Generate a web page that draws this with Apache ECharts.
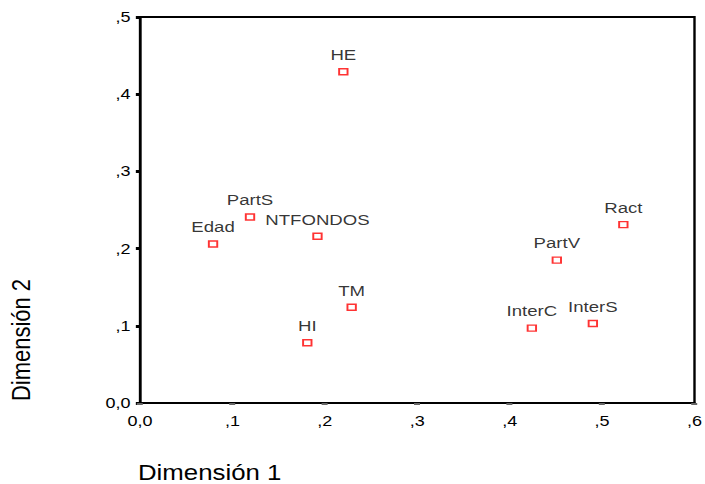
<!DOCTYPE html>
<html>
<head>
<meta charset="utf-8">
<script src="https://cdn.jsdelivr.net/npm/echarts@6/dist/echarts.min.js"></script>
<style>
  html, body { margin: 0; padding: 0; background: #fff; overflow: hidden; }
  /* the original SPSS export is stretched sideways, so the chart is too */
  #chart { width: 588px; height: 484px; transform: scaleX(1.2); transform-origin: 0 0; }
</style>
</head>
<body>
<div id="chart"></div>
<script>
const labels = ["HE", "PartS", "NTFONDOS", "Edad", "Ract", "PartV", "InterC", "InterS", "TM", "HI"];
const dim1 = [0.220, 0.119, 0.192, 0.079, 0.523, 0.451, 0.424, 0.490, 0.229, 0.181];
const dim2 = [0.429, 0.241, 0.216, 0.206, 0.231, 0.185, 0.097, 0.103, 0.124, 0.078];

const font = "'Liberation Sans', Arial, sans-serif";

// SPSS style tick labels: ",1" ... and "0,0" at zero
const tickFmt = (v) => {
  if (Math.abs(v) < 1e-9) return "0,0";
  return "," + Math.round(v * 10);
};

const chart = echarts.init(document.getElementById("chart"), null, { renderer: "svg" });

const option = {
  animation: false,
  backgroundColor: "#fff",
  grid: {
    left: 116.7,
    top: 17,
    right: 6.3,
    bottom: 81,
    show: true,
    borderColor: "#000",
    borderWidth: 2,
  },
  xAxis: {
    type: "value",
    min: 0,
    max: 0.6,
    interval: 0.1,
    splitLine: { show: false },
    axisLine: { lineStyle: { color: "#000", width: 2 } },
    axisTick: { length: 2, lineStyle: { color: "#666", width: 5 } },
    axisLabel: {
      formatter: tickFmt,
      color: "#000",
      fontSize: 15,
      fontFamily: font,
      margin: 11,
    },
  },
  yAxis: {
    type: "value",
    min: 0,
    max: 0.5,
    interval: 0.1,
    splitLine: { show: false },
    axisLine: { lineStyle: { color: "#000", width: 2 } },
    axisTick: { length: 3.5, lineStyle: { color: "#000", width: 3 } },
    axisLabel: {
      formatter: tickFmt,
      color: "#000",
      fontSize: 15,
      fontFamily: font,
      margin: 8,
    },
  },
  graphic: [
    {
      type: "text",
      x: 115,
      y: 473,
      style: {
        text: "Dimensión 1",
        fontSize: 21.5,
        fontFamily: font,
        fill: "#000",
        align: "left",
        verticalAlign: "middle",
      },
    },
    {
      type: "text",
      x: 17.5,
      y: 340,
      rotation: Math.PI / 2,
      style: {
        text: "Dimensión 2",
        fontSize: 22,
        fontFamily: font,
        fill: "#000",
        align: "center",
        verticalAlign: "middle",
      },
    },
  ],
  series: [
    {
      type: "scatter",
      data: labels.map((n, i) => ({ name: n, value: [dim1[i], dim2[i]] })),
      symbol: "rect",
      symbolSize: [7, 6],
      itemStyle: {
        color: "#fff",
        borderColor: "#ff0000",
        borderWidth: 1.5,
      },
      label: {
        show: true,
        position: "top",
        distance: 5,
        formatter: "{b}",
        color: "#000",
        fontSize: 15.5,
        fontFamily: font,
      },
    },
  ],
};

chart.setOption(option);
</script>
</body>
</html>
